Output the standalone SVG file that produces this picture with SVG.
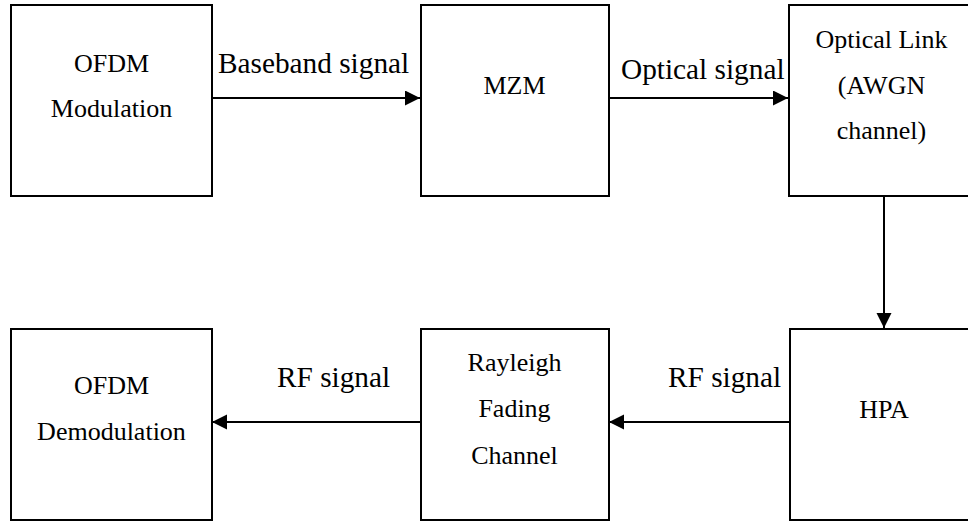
<svg xmlns="http://www.w3.org/2000/svg" width="968" height="521" viewBox="0 0 968 521">
  <style>
    .box { fill: #ffffff; stroke: #000000; stroke-width: 2; }
    .lbl { font-family: "Liberation Serif", "Times New Roman", serif; font-size: 26px; fill: #000000; text-anchor: middle; }
    .edge { font-family: "Liberation Serif", "Times New Roman", serif; font-size: 29.3px; fill: #000000; }
    .link { fill: none; stroke: #000000; stroke-width: 2; marker-end: url(#arrow); }
  </style>
  <defs>
    <marker id="arrow" markerUnits="userSpaceOnUse" markerWidth="16" markerHeight="16" refX="15" refY="7.5" orient="auto">
      <path d="M0,0 L15,7.5 L0,15 z" fill="#000000"/>
    </marker>
  </defs>
  <rect width="968" height="521" fill="#ffffff"/>

  <g id="ofdm-mod">
    <rect class="box" x="11" y="5" width="201" height="191"/>
    <text class="lbl" x="111.5" y="72">OFDM</text>
    <text class="lbl" x="111.5" y="117">Modulation</text>
  </g>

  <g id="mzm">
    <rect class="box" x="421" y="5" width="188" height="191"/>
    <text class="lbl" x="514.5" y="94">MZM</text>
  </g>

  <g id="optical-link">
    <rect class="box" x="789" y="5" width="190" height="191"/>
    <text class="lbl" x="881.5" y="48">Optical Link</text>
    <text class="lbl" x="881.5" y="94">(AWGN</text>
    <text class="lbl" x="881.5" y="139">channel)</text>
  </g>

  <g id="ofdm-demod">
    <rect class="box" x="11" y="329" width="201" height="191"/>
    <text class="lbl" x="111.5" y="394">OFDM</text>
    <text class="lbl" x="111.5" y="440">Demodulation</text>
  </g>

  <g id="rayleigh">
    <rect class="box" x="421" y="329" width="188" height="191"/>
    <text class="lbl" x="514.5" y="371">Rayleigh</text>
    <text class="lbl" x="514.5" y="417">Fading</text>
    <text class="lbl" x="514.5" y="464">Channel</text>
  </g>

  <g id="hpa">
    <rect class="box" x="790" y="329" width="190" height="191"/>
    <text class="lbl" x="884" y="418">HPA</text>
  </g>

  <g id="connectors">
    <path class="link" d="M212,98 H420"/>
    <path class="link" d="M609,98 H788"/>
    <path class="link" d="M884,196 V328"/>
    <path class="link" d="M790,422 H609"/>
    <path class="link" d="M421,422 H212"/>
    <text class="edge" x="218" y="73">Baseband signal</text>
    <text class="edge" x="621" y="79">Optical signal</text>
    <text class="edge" x="668" y="387">RF signal</text>
    <text class="edge" x="277" y="387">RF signal</text>
  </g>
</svg>
